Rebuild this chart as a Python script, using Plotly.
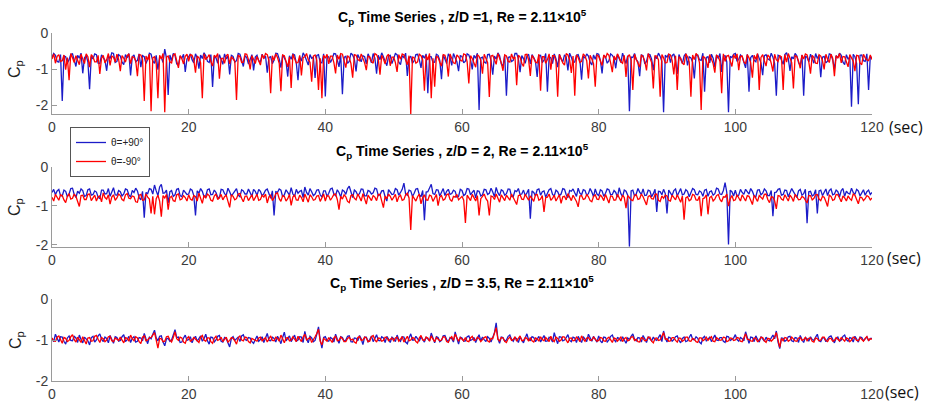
import plotly.graph_objects as go

# ---------------- data (0.25 s sampling) ----------------
TIME_STEP = 0.25

# z/D = 1
CP_ZD1_POS90 = [
    -.68,-.57,-.62,-.79,-.81,-.60,-1.89,-.64,-.66,-.83,-.74,-.59,-.58,-.77,-.93,-.62,-.70,-.56,-1.12,-.69,-.63,-.80,-1.56,-.65,-.72,-.58,-.60,-.84,-.85,-.61,-.67,-.76,-1.05,-.63,-.71,-.55,-.57,-.82,-.79,-.60,
    -.64,-.81,-.88,-.60,-.69,-.57,-1.18,-.66,-.61,-.80,-.76,-.58,-.95,-.63,-.66,-.85,-.73,-.56,-.59,-.78,-.84,-.62,-1.02,-.67,-.68,-.82,-.45,-.70,-1.72,-.61,-.77,-.57,-.62,-.86,-.90,-.64,-.70,-.59,-1.08,-.72,
    -.66,-.58,-.74,-.83,-.58,-.69,-.99,-.61,-.71,-.55,-.63,-.79,-.82,-.60,-1.50,-.66,-.69,-.84,-.60,-.73,-.87,-.58,-.72,-.64,-1.15,-.62,-.65,-.81,-.77,-.57,-.59,-.75,-.93,-.63,-.68,-.86,-.74,-.60,-1.04,-.67,
    -.62,-.77,-.80,-.59,-.70,-.64,-1.10,-.68,-.66,-.85,-.75,-.56,-.57,-.72,-.96,-.61,-.69,-.80,-1.21,-.63,-.73,-.58,-.61,-.83,-1.31,-.66,-.78,-.55,-.64,-.76,-.89,-.60,-.70,-.67,-1.25,-.62,-.60,-.81,-.83,-.58,
    -1.76,-.63,-.67,-.82,-.72,-.57,-.58,-.75,-.94,-.61,-1.70,-.68,-.65,-.84,-.79,-.56,-.61,-.73,-1.07,-.60,-.71,-.80,-.63,-.66,-.86,-.58,-.69,-.83,-.57,-.70,-1.13,-.62,-.74,-.55,-.66,-.78,-.91,-.64,-.62,-.85,
    -.73,-.57,-.60,-.81,-.88,-.63,-.68,-.56,-1.19,-.70,-.64,-.84,-.77,-.60,-.59,-.74,-.97,-.62,-.70,-.58,-1.67,-.65,-.66,-.82,-.81,-.59,-.62,-.76,-1.28,-.61,-.72,-.85,-.58,-.67,-.90,-.57,-.69,-.80,-1.06,-.63,
    -.65,-.83,-.78,-.58,-.61,-.74,-1.01,-.62,-.70,-.56,-2.14,-.69,-.67,-.81,-.84,-.60,-.59,-.77,-1.16,-.64,-.73,-.55,-.63,-.86,-.92,-.61,-1.74,-.68,-.66,-.79,-.76,-.57,-.57,-.72,-1.09,-.63,-.71,-.84,-.64,-.59,
    -.86,-.60,-.68,-.78,-1.22,-.63,-.62,-.82,-.75,-.57,-1.63,-.66,-.69,-.85,-.58,-.71,-.95,-.59,-.72,-.80,-.61,-.67,-1.04,-.56,-.67,-.83,-.80,-.62,-.60,-.75,-1.30,-.64,-.70,-.58,-.64,-.81,-.89,-.61,-.73,-.57,
    -.59,-.76,-1.12,-.62,-.66,-.84,-.77,-.58,-.62,-.71,-.98,-.60,-.70,-.82,-.56,-.74,-.85,-.63,-2.17,-.67,-.68,-.57,-.74,-.80,-1.20,-.61,-.63,-.86,-.79,-.59,-.60,-.73,-1.03,-.65,-.71,-.56,-.65,-.79,-2.20,-.62,
    -.67,-.58,-.82,-.63,-.58,-.77,-1.14,-.60,-.72,-.85,-.64,-.57,-.90,-.66,-.69,-.81,-1.26,-.62,-.61,-.74,-.76,-.56,-1.63,-.68,-.66,-.83,-.59,-.70,-.94,-.61,-.71,-.57,-1.08,-.64,-.63,-.80,-2.20,-.65,-.68,-.59,
    -.57,-.79,-.73,-.61,-.66,-.84,-.97,-.59,-1.63,-.68,-.62,-.76,-.80,-.58,-.70,-.83,-1.17,-.63,-.60,-.72,-.75,-.56,-.67,-.85,-1.74,-.62,-.64,-.78,-.87,-.60,-.55,-.71,-1.05,-.66,-.72,-.57,-.63,-.82,-.91,-.61,
    -1.74,-.64,-.68,-.80,-.59,-.70,-.84,-.57,-.71,-.62,-1.23,-.67,-.65,-.83,-.78,-.58,-.60,-.75,-1.00,-.63,-.69,-.56,-.62,-.81,-.88,-.60,-.73,-.66,-2.05,-.59,-.66,-.84,-1.98,-.62,-.61,-.77,-.79,-.58,-1.58,-.65,
    -.70,
]
CP_ZD1_NEG90 = [
    -.72,-.58,-.84,-.65,-.60,-.79,-.77,-.61,-1.02,-.68,-1.31,-.57,-.69,-.82,-.63,-.74,-.88,-.59,-.71,-.85,-.58,-.66,-.95,-.60,-.66,-.80,-.80,-.62,-1.14,-.70,-.62,-.83,-.74,-.57,-.90,-.64,-.67,-.81,-.59,-.73,
    -1.06,-.63,-.70,-.81,-.63,-.58,-.85,-.66,-.68,-.77,-1.20,-.60,-.61,-.73,-1.89,-.64,-.75,-.59,-2.17,-.69,-.66,-.84,-1.81,-.62,-.72,-.57,-2.20,-.67,-.64,-.80,-.83,-.61,-.58,-.76,-.97,-.63,-.71,-.86,-.65,-.59,
    -.79,-.60,-.62,-.75,-1.10,-.64,-.69,-.83,-1.81,-.58,-.74,-.68,-.60,-.80,-.92,-.62,-.67,-.57,-1.27,-.71,-.70,-.84,-.63,-.59,-.86,-.66,-.72,-.78,-1.86,-.61,-.66,-.82,-.81,-.58,-.59,-.74,-1.01,-.63,-.73,-.85,
    -.65,-.80,-.89,-.60,-.71,-.57,-.60,-.77,-1.67,-.63,-.76,-.58,-.68,-.84,-1.62,-.61,-.63,-.79,-.94,-.66,-1.53,-.59,-.70,-.83,-.82,-.62,-1.18,-.68,-.66,-.57,-.74,-.81,-1.35,-.64,-.61,-.76,-1.58,-.70,-1.81,-.62,
    -.70,-.59,-.86,-.64,-.64,-.82,-1.12,-.61,-.73,-.57,-.59,-.78,-.96,-.63,-.68,-.85,-1.24,-.60,-.62,-.74,-.77,-.58,-.71,-.83,-1.03,-.65,-.66,-.79,-.84,-.57,-.60,-.72,-1.16,-.62,-.72,-.86,-.65,-.59,-.91,-.67,
    -.67,-.82,-1.08,-.60,-.73,-.58,-.61,-.77,-.88,-.63,-2.25,-.66,-.69,-.84,-.80,-.59,-.63,-.75,-1.60,-.62,-.75,-.57,-1.81,-.70,-1.49,-.64,-.68,-.81,-.92,-.60,-.62,-.78,-1.21,-.58,-.70,-.83,-.85,-.61,-.66,-.76,
    -.78,-.58,-.60,-.80,-1.40,-.63,-.71,-.85,-.95,-.60,-.65,-.76,-1.13,-.59,-.73,-.82,-1.78,-.64,-.62,-.77,-.87,-.57,-.69,-.83,-1.05,-.61,-.64,-.79,-.81,-.58,-.72,-.66,-1.45,-.62,-.67,-.84,-.93,-.60,-.59,-.75,
    -1.19,-.62,-.70,-.81,-.83,-.59,-1.60,-.66,-.66,-.84,-.74,-.58,-1.02,-.63,-.63,-.78,-1.77,-.60,-.71,-.83,-.89,-.57,-.61,-.75,-1.11,-.64,-1.74,-.61,-.68,-.82,-.79,-.58,-.64,-.77,-1.26,-.62,-.72,-.85,-1.49,-.60,
    -.65,-.79,-.90,-.61,-.70,-.57,-.62,-.83,-1.09,-.64,-.75,-.58,-.67,-.80,-.84,-.62,-1.22,-.66,-.60,-.76,-1.58,-.59,-.73,-.84,-.95,-.61,-.66,-.78,-1.04,-.57,-.71,-.82,-1.54,-.63,-.64,-.75,-1.77,-.60,-.69,-.83,
    -.82,-.59,-.61,-.76,-1.15,-.63,-1.58,-.67,-.70,-.84,-.88,-.58,-.66,-.80,-1.77,-.61,-.74,-.57,-.63,-.82,-2.14,-.65,-.68,-.78,-.97,-.60,-.72,-.85,-1.10,-.62,-.65,-.79,-1.67,-.58,-.79,-.64,-.62,-.81,-.93,-.60,
    -.71,-.58,-1.03,-.65,-.64,-.80,-.86,-.60,-.69,-.83,-1.24,-.62,-.73,-.57,-1.58,-.68,-.60,-.77,-.92,-.61,-.67,-.84,-1.07,-.59,-.74,-.79,-.63,-.66,-1.58,-.60,-.81,-.57,-.70,-.82,-1.54,-.63,-.66,-.78,-.98,-.61,
    -.72,-.58,-.61,-.80,-1.13,-.62,-.68,-.84,-.85,-.60,-.64,-.77,-1.01,-.59,-.73,-.82,-.59,-.70,-1.20,-.63,-.70,-.57,-.83,-.65,-.66,-.81,-.94,-.60,-.71,-.78,-1.06,-.62,-.63,-.83,-.88,-.59,-.69,-.75,-.77,-.61,
    -.74,
]

# z/D = 2
CP_ZD2_POS90 = [
    -.66,-.58,-.72,-.62,-.58,-.74,-.75,-.60,-.63,-.77,-.70,-.56,-.55,-.71,-.79,-.63,-.68,-.57,-.61,-.76,-.74,-.59,-.57,-.73,-.71,-.62,-.65,-.78,-.82,-.60,-.60,-.70,-.69,-.56,-.76,-.64,-.54,-.72,-.73,-.61,
    -.64,-.75,-.70,-.57,-.59,-.72,-.78,-.61,-.66,-.55,-.62,-.79,-.85,-.63,-1.31,-.66,-.69,-.56,-.58,-.70,-.47,-.62,-.74,-.52,-.45,-.68,-.67,-.60,-.93,-.64,-.61,-.76,-.72,-.58,-.56,-.74,-.77,-.60,-.65,-.71,
    -.70,-.57,-.60,-.74,-1.25,-.62,-.68,-.56,-.63,-.77,-.75,-.59,-.57,-.72,-.71,-.60,-.66,-.78,-.80,-.58,-.59,-.69,-.73,-.55,-.64,-.75,-.69,-.61,-.56,-.73,-.77,-.59,-.62,-.70,-.70,-.57,-.67,-.76,-.58,-.63,
    -.74,-.58,-.63,-.75,-.69,-.60,-.57,-.71,-.81,-.62,-1.25,-.64,-.66,-.57,-.60,-.77,-.72,-.59,-.65,-.73,-.54,-.70,-.76,-.58,-.68,-.63,-.61,-.79,-.52,-.66,-.73,-.56,-.64,-.74,-.70,-.60,-.59,-.72,-.78,-.62,
    -.62,-.76,-.68,-.57,-.55,-.70,-.74,-.59,-.66,-.78,-.60,-.63,-.71,-.56,-.50,-.68,-.79,-.60,-.64,-.73,-.69,-.57,-.58,-.75,-.75,-.61,-.63,-.70,-.67,-.55,-.57,-.74,-.72,-.62,-.61,-.77,-.88,-.59,-.65,-.71,
    -.70,-.56,-.59,-.73,-.66,-.58,-.42,-.70,-.73,-.60,-.62,-.76,-.68,-.57,-.56,-.72,-.77,-.61,-1.37,-.65,-.64,-.53,-.45,-.69,-.71,-.59,-.60,-.75,-.67,-.56,-.74,-.63,-.58,-.71,-.69,-.60,-.63,-.78,-.76,-.58,
    -.61,-.74,-.70,-.56,-.57,-.72,-.66,-.60,-.80,-.62,-.63,-.75,-.72,-.58,-.59,-.71,-.68,-.55,-.65,-.77,-.53,-.67,-.74,-.59,-.62,-.73,-.69,-.57,-.58,-.76,-.77,-.61,-.64,-.56,-.71,-.70,-.60,-.74,-.67,-.58,
    -1.33,-.62,-.66,-.75,-.59,-.57,-.73,-.64,-.62,-.78,-.68,-.59,-.56,-.71,-.75,-.60,-.64,-.74,-.70,-.56,-.58,-.72,-.79,-.61,-.63,-.57,-.67,-.76,-.55,-.68,-.72,-.59,-.61,-.73,-.69,-.56,-.65,-.77,-.57,-.70,
    -.74,-.59,-.62,-.76,-.68,-.57,-.59,-.72,-.71,-.61,-.66,-.78,-.54,-.69,-.77,-.60,-.63,-.73,-2.05,-.62,-.60,-.75,-.70,-.56,-.65,-.71,-.57,-.74,-.73,-.60,-.62,-.77,-.69,-.58,-1.16,-.63,-.64,-.72,-.58,-.69,
    -1.20,-.60,-.67,-.74,-.61,-.57,-.75,-.63,-.56,-.72,-.70,-.59,-.63,-.77,-.68,-.56,-.59,-.71,-.72,-.62,-.65,-.76,-.60,-.58,-.76,-.64,-.62,-.73,-.69,-.55,-.57,-.70,-.71,-.61,-.41,-.66,-1.99,-.60,-.64,-.75,
    -.60,-.76,-.73,-.58,-.66,-.71,-.58,-.64,-.70,-.56,-.63,-.75,-.77,-.60,-.59,-.72,-.68,-.57,-.62,-.74,-.74,-.61,-1.27,-.66,-.65,-.58,-.56,-.73,-.71,-.60,-.61,-.77,-.67,-.56,-.64,-.70,-.79,-.62,-.58,-.73,
    -.69,-.58,-1.45,-.64,-.63,-.75,-.72,-.59,-1.20,-.62,-.60,-.74,-.66,-.57,-.74,-.61,-.57,-.72,-.70,-.60,-.64,-.77,-.61,-.56,-.76,-.63,-.68,-.70,-.55,-.66,-.71,-.58,-.62,-.75,-.67,-.59,-.73,-.64,-.60,-.71,
    -.66,
]
CP_ZD2_NEG90 = [
    -.78,-.88,-.71,-.80,-.86,-.72,-.74,-.85,-.92,-.76,-.69,-.83,-.81,-.70,-.76,-.89,-1.02,-.74,-.73,-.84,-.84,-.71,-.70,-.87,-.79,-.73,-.88,-.77,-.75,-.90,-.67,-.79,-.83,-.72,-.96,-.78,-.72,-.86,-.80,-.70,
    -.74,-.84,-.87,-.72,-.69,-.81,-.82,-.75,-.77,-.90,-.91,-.73,-.71,-.86,-.85,-.70,-.78,-.83,-1.20,-.76,-1.22,-.82,-.73,-.88,-1.28,-.74,-.80,-.71,-1.10,-.79,-.76,-.87,-.89,-.72,-.70,-.85,-.83,-.74,-.79,-.88,
    -.72,-.83,-.86,-.74,-.77,-.88,-.68,-.80,-.94,-.73,-.81,-.70,-.74,-.86,-.88,-.75,-.70,-.84,-.79,-.71,-.85,-.77,-.73,-.89,-1.04,-.72,-.76,-.85,-.82,-.70,-.69,-.81,-.90,-.76,-.75,-.87,-.80,-.72,-.87,-.78,
    -.71,-.86,-.84,-.73,-.78,-.70,-.93,-.77,-.73,-.87,-.80,-.69,-.67,-.82,-.89,-.74,-.76,-.88,-.82,-.71,-.99,-.78,-.72,-.85,-.86,-.73,-.79,-.90,-.70,-.80,-.91,-.72,-.77,-.86,-.84,-.75,-.74,-.89,-.81,-.70,
    -.88,-.74,-.75,-.86,-.79,-.71,-.70,-.84,-1.10,-.76,-.83,-.72,-.77,-.89,-.92,-.74,-.72,-.81,-.85,-.70,-.78,-.88,-.69,-.80,-.96,-.73,-.80,-.87,-.74,-.78,-.87,-.71,-.71,-.85,-1.05,-.75,-.82,-.70,-.76,-.86,
    -.79,-.71,-.90,-.77,-.73,-.86,-.84,-.72,-.68,-.80,-1.62,-.74,-.81,-.88,-.77,-.70,-.95,-.79,-.72,-.85,-.86,-.73,-.75,-.89,-.80,-.71,-1.00,-.78,-.74,-.86,-.83,-.72,-.70,-.84,-.89,-.76,-.78,-.71,-.85,-.80,
    -.76,-.86,-1.44,-.73,-.79,-.87,-.71,-.80,-.88,-.74,-1.25,-.82,-.74,-.70,-.82,-.88,-1.25,-.75,-.77,-.84,-.70,-.79,-.91,-.72,-.80,-.87,-.73,-.81,-.86,-.70,-.78,-.89,-.97,-.74,-.72,-.83,-.84,-.71,-.79,-.86,
    -.75,-.84,-.89,-.72,-.71,-.86,-.83,-.74,-1.16,-.79,-.78,-.70,-.86,-.81,-.73,-.88,-.80,-.72,-.94,-.77,-.76,-.85,-.69,-.80,-.87,-.73,-.81,-.89,-1.03,-.75,-.74,-.84,-.82,-.71,-.77,-.87,-.90,-.76,-.72,-.83,
    -.84,-.72,-.78,-.87,-.71,-.80,-.93,-.75,-.76,-.86,-.85,-.71,-.80,-.88,-.73,-.79,-1.06,-.74,-.79,-.85,-.87,-.73,-.72,-.84,-.82,-.70,-.77,-.89,-.98,-.76,-.74,-.82,-.83,-.71,-.70,-.86,-.89,-.75,-.81,-.73,
    -.75,-.86,-.88,-.73,-.79,-.85,-.72,-.81,-.91,-.75,-1.36,-.80,-.77,-.87,-.84,-.71,-.73,-.85,-.86,-.76,-1.27,-.82,-.80,-.72,-1.22,-.79,-.76,-.88,-.83,-.74,-.71,-.84,-.90,-.77,-.78,-.70,-1.01,-.83,-.74,-.87,
    -.85,-.72,-.79,-.88,-.72,-.81,-.88,-.74,-.76,-.86,-.97,-.73,-.81,-.89,-.74,-.80,-.83,-.71,-.70,-.84,-.92,-.77,-.78,-.87,-1.08,-.74,-.75,-.83,-.86,-.72,-.80,-.88,-.73,-.79,-.89,-.71,-.77,-.85,-.84,-.76,
    -.79,-.87,-.93,-.74,-.74,-.85,-.81,-.72,-.71,-.83,-.87,-.76,-.78,-.89,-1.02,-.73,-.76,-.86,-.84,-.71,-.72,-.80,-.90,-.75,-.80,-.88,-.75,-.82,-.86,-.70,-.73,-.84,-.95,-.78,-.79,-.87,-.82,-.74,-.77,-.85,
    -.80,
]

# z/D = 3.5
CP_ZD35_POS90 = [
    -.98,-1.04,-.86,-.97,-1.05,-.92,-.93,-1.03,-1.10,-.95,-.90,-1.01,-1.02,-.91,-.95,-1.06,-.88,-.99,-1.07,-.93,-.97,-1.02,-1.12,-.94,-.91,-1.05,-1.00,-.90,-.85,-.98,-1.04,-.93,-.96,-1.07,-.89,-1.00,-1.08,-.92,-.94,-1.03,
    -1.01,-.92,-.87,-1.04,-.99,-.91,-1.06,-.96,-.92,-1.05,-1.03,-.94,-.95,-1.02,-.84,-.97,-1.09,-.93,-.97,-.86,-.76,-.95,-1.02,-.91,-.90,-1.05,-1.14,-.97,-.96,-1.03,-1.00,-.88,-.75,-.94,-.93,-1.06,-1.05,-.95,-.88,-1.01,
    -.99,-.92,-1.07,-.96,-.91,-1.03,-.96,-.90,-1.03,-.97,-.86,-1.02,-1.10,-.93,-.94,-1.05,-1.00,-.91,-.89,-1.03,-1.05,-.94,-.97,-1.06,-1.17,-.96,-.92,-1.01,-.98,-.93,-1.04,-.90,-.87,-.99,-1.01,-.94,-.95,-1.04,-1.08,-.97,
    -.90,-1.03,-.99,-.92,-1.06,-.95,-.84,-1.01,-1.02,-.93,-.96,-1.05,-.91,-.98,-1.09,-.94,-.81,-1.02,-.97,-.90,-1.04,-.96,-.88,-1.03,-1.00,-.92,-.93,-1.06,-.79,-.97,-1.07,-.91,-.95,-1.04,-1.01,-.86,-.68,-1.00,-1.20,-.94,
    -.92,-1.01,-1.03,-.94,-.97,-1.05,-.86,-.98,-1.08,-.92,-.94,-1.03,-1.00,-.91,-.90,-1.04,-1.05,-.95,-.96,-1.02,-.89,-.97,-1.11,-.93,-.93,-1.04,-.99,-.90,-1.04,-.96,-.87,-1.01,-1.02,-.92,-.95,-1.06,-.91,-.98,-1.06,-.93,
    -.97,-1.04,-.88,-.99,-1.03,-.92,-.93,-1.05,-1.09,-.95,-.85,-1.00,-1.00,-.91,-.96,-1.03,-.92,-.98,-1.05,-.93,-.98,-1.02,-.83,-.96,-1.07,-.92,-.94,-1.04,-1.01,-.90,-.89,-.99,-1.04,-.94,-.97,-1.05,-.80,-.96,-1.10,-.93,
    -.95,-1.03,-1.02,-.92,-.90,-1.01,-.99,-.94,-1.06,-.96,-.87,-1.02,-.93,-.99,-1.04,-.92,-.96,-1.05,-.91,-.82,-.58,-.97,-1.08,-.93,-.94,-1.03,-1.00,-.91,-.88,-.98,-1.03,-.94,-.97,-1.06,-.92,-.99,-1.07,-.95,-.85,-1.00,
    -1.01,-.92,-.94,-1.04,-.98,-.91,-1.05,-.96,-.89,-1.03,-1.02,-.93,-.96,-1.05,-.82,-.97,-1.09,-.92,-.93,-1.02,-1.00,-.94,-.87,-1.01,-1.04,-.93,-.95,-1.06,-.91,-.99,-1.06,-.92,-.98,-1.04,-.86,-.95,-1.03,-.91,-.97,-1.05,
    -.90,-1.02,-1.07,-.93,-.94,-1.05,-1.00,-.91,-.88,-.99,-1.04,-.94,-.96,-1.03,-.92,-1.00,-1.08,-.95,-.99,-.91,-.85,-.98,-1.02,-.94,-.95,-1.05,-.89,-.97,-1.06,-.93,-.97,-1.02,-.93,-.99,-1.01,-.92,-.87,-1.04,-.78,-.96,
    -1.05,-.93,-.95,-1.03,-.99,-.92,-.90,-1.01,-1.07,-.96,-.93,-1.04,-1.02,-.94,-.86,-.98,-1.00,-.92,-.96,-1.05,-1.09,-.95,-.91,-1.02,-.98,-.93,-1.04,-.97,-.88,-1.00,-1.01,-.94,-.94,-1.03,-1.06,-.91,-.92,-1.01,-.99,-.95,
    -.87,-.99,-1.03,-.94,-.97,-1.02,-.80,-.95,-1.08,-.93,-.94,-1.04,-.90,-.98,-1.05,-.92,-.99,-1.03,-.93,-1.00,-1.02,-.94,-.88,-.97,-.78,-1.05,-1.21,-.95,-.96,-1.03,-1.00,-.92,-.91,-1.02,-1.04,-.94,-.95,-1.06,-.89,-.99,
    -1.06,-.94,-.97,-1.03,-.92,-.99,-1.01,-.93,-.86,-1.02,-1.04,-.95,-.95,-1.04,-.99,-.92,-.90,-1.01,-1.07,-.96,-.93,-1.03,-1.00,-.91,-.88,-.99,-1.03,-.94,-.96,-1.05,-.91,-.98,-1.05,-.93,-.94,-1.02,-.98,-.92,-1.02,-.96,
    -.96,
]
CP_ZD35_NEG90 = [
    -.95,-1.02,-1.03,-.93,-.90,-1.01,-1.08,-.94,-.96,-1.04,-1.01,-.92,-.87,-.99,-1.05,-.93,-.99,-1.06,-.92,-1.00,-1.10,-.95,-.94,-1.03,-1.02,-.91,-.89,-.98,-1.06,-.94,-.97,-1.04,-1.00,-.92,-.91,-1.02,-1.04,-.95,-.98,-1.01,
    -.93,-1.01,-1.07,-.94,-.96,-1.03,-.88,-.97,-1.02,-.92,-.95,-1.04,-1.09,-.93,-.90,-1.02,-1.00,-.95,-.94,-.88,-.82,-1.00,-1.20,-.96,-.97,-1.04,-1.03,-.92,-.91,-1.00,-1.05,-.94,-.80,-.97,-1.01,-.93,-.95,-1.05,-1.08,-.96,
    -.92,-1.03,-1.00,-.94,-.97,-1.02,-1.06,-.93,-.89,-1.00,-1.03,-.95,-.95,-1.04,-1.08,-.96,-.91,-1.01,-.99,-.93,-1.04,-.97,-.93,-1.05,-1.01,-.94,-.96,-1.02,-1.10,-.95,-.90,-1.00,-1.02,-.93,-.94,-1.04,-1.07,-.96,-.98,-1.02,
    -1.03,-.95,-.93,-1.02,-.99,-.94,-1.05,-.96,-.90,-1.01,-1.02,-.93,-.96,-1.03,-.88,-.97,-1.07,-.95,-.94,-1.02,-1.00,-.92,-.97,-1.04,-.91,-.98,-1.04,-.93,-.86,-1.00,-.98,-.94,-1.06,-.97,-.92,-.84,-.74,-1.03,-1.12,-.96,
    -.99,-1.03,-.94,-1.01,-1.06,-.95,-.91,-1.02,-1.01,-.93,-.97,-1.04,-1.04,-.96,-.93,-1.00,-.98,-1.05,-1.08,-.94,-.92,-1.01,-1.00,-.93,-.95,-1.04,-1.03,-.92,-.89,-.99,-1.05,-.95,-.96,-1.03,-1.01,-.93,-.94,-1.02,-.99,-.95,
    -1.02,-.95,-.93,-1.03,-.98,-.92,-1.05,-.97,-.91,-1.02,-1.00,-.94,-.96,-1.04,-1.07,-.95,-.89,-1.00,-1.01,-.93,-.95,-1.03,-.90,-.98,-1.04,-.94,-.97,-1.02,-1.00,-.92,-.93,-1.04,-1.06,-.96,-.92,-1.01,-.86,-.97,-1.03,-.94,
    -.98,-1.02,-.94,-1.03,-1.04,-.95,-.91,-1.01,-1.00,-.93,-.96,-1.04,-.99,-.94,-.92,-1.02,-1.05,-.96,-.97,-.85,-.70,-.98,-1.02,-.94,-.95,-1.03,-1.06,-.97,-.93,-1.01,-.99,-.92,-1.03,-.96,-.90,-1.02,-1.01,-.94,-.96,-1.03,
    -.94,-1.02,-1.05,-.95,-.97,-1.03,-.92,-.99,-1.02,-.94,-.98,-1.04,-.91,-1.00,-1.04,-.93,-.96,-1.03,-1.00,-.92,-.93,-1.01,-1.07,-.96,-.95,-1.02,-1.01,-.93,-.97,-1.04,-.90,-.98,-1.03,-.95,-.94,-1.01,-1.00,-.93,-.98,-1.03,
    -1.01,-.94,-.95,-1.02,-1.03,-.96,-.93,-1.01,-1.06,-.95,-.97,-1.03,-.99,-.93,-1.04,-.97,-.94,-1.02,-1.00,-.93,-.92,-1.01,-.98,-1.04,-1.05,-.94,-.96,-1.02,-1.01,-.93,-.93,-1.03,-1.07,-.96,-.95,-1.01,-1.00,-.90,-.82,-.98,
    -.97,-1.03,-1.02,-.94,-.94,-1.01,-1.05,-.95,-.96,-1.03,-1.00,-.93,-.93,-1.02,-1.03,-.96,-.98,-1.04,-1.06,-.95,-.95,-1.02,-.99,-.93,-1.01,-.96,-.92,-1.03,-1.04,-.94,-.97,-1.01,-1.00,-.93,-.94,-1.04,-1.02,-.95,-.96,-1.01,
    -1.00,-.94,-.95,-1.03,-1.04,-.93,-.85,-.98,-.99,-1.02,-1.03,-.95,-.96,-1.04,-1.01,-.93,-.94,-1.02,-1.06,-.96,-.97,-1.03,-.99,-.92,-.82,-1.00,-1.18,-.96,-1.02,-.94,-.95,-1.03,-1.00,-.93,-.97,-1.02,-1.03,-.95,-.94,-1.01,
    -.99,-.94,-1.02,-.96,-.95,-1.03,-1.05,-.95,-.97,-1.02,-1.00,-.93,-.93,-1.01,-1.04,-.96,-.96,-1.03,-1.01,-.94,-.98,-1.02,-.94,-1.00,-1.03,-.95,-.97,-1.04,-1.00,-.93,-.95,-1.01,-1.02,-.94,-.99,-1.03,-.96,-.92,-1.01,-.97,
    -.98,
]

SERIES_NAMES = ["θ=+90°", "θ=-90°"]
PANEL_TITLES = [
    "<b>C<sub>p</sub> Time Series , z/D =1, Re = 2.11×10<sup>5</sup></b>",
    "<b>C<sub>p</sub> Time Series , z/D = 2, Re = 2.11×10<sup>5</sup></b>",
    "<b>C<sub>p</sub> Time Series , z/D = 3.5, Re = 2.11×10<sup>5</sup></b>",
]
PANEL_DATA = [
    (CP_ZD1_POS90, CP_ZD1_NEG90),
    (CP_ZD2_POS90, CP_ZD2_NEG90),
    (CP_ZD35_POS90, CP_ZD35_NEG90),
]
Y_RANGES = [[-2.25, 0], [-2.05, 0], [-2.0, 0]]
X_TICKS = [0, 20, 40, 60, 80, 100, 120]
X_TICK_TEXT = ["0", "20", "40", "60", "80", "100", "120"]
Y_TICKS = [0, -1, -2]
Y_TICK_TEXT = ["0", "-1", "-2"]

# ---------------- styling / layout ----------------
W, H = 927, 403
BLUE = "#1c1cc8"
RED = "#ff0000"
AXIS_COLOR = "#9a9a9a"
TICK_FONT = dict(family="Liberation Sans, Arial, sans-serif", size=14, color="#3c3c3c")

# pixel geometry of the three panels (top, bottom)
X_LEFT, X_RIGHT = 52, 872
PANELS_PX = [(33, 114), (166.7, 246.7), (299, 381)]
TITLE_Y_PX = [17, 151, 283]
CP_Y_PX = [69, 207, 340]
SEC_Y_PX = [127, 258, 392]
SEC_X_PX = [887, 885, 883]


def px_x(p):
    return p / W


def px_y(p):
    return 1 - p / H


def times_for(values):
    return [i * TIME_STEP for i in range(len(values))]


fig = go.Figure()

for k, (pos, neg) in enumerate(PANEL_DATA):
    xa = "x" if k == 0 else f"x{k + 1}"
    ya = "y" if k == 0 else f"y{k + 1}"
    fig.add_trace(go.Scatter(
        x=times_for(pos), y=pos, mode="lines", name=SERIES_NAMES[0],
        line=dict(color=BLUE, width=1.3), xaxis=xa, yaxis=ya,
        showlegend=(k == 0),
    ))
    fig.add_trace(go.Scatter(
        x=times_for(neg), y=neg, mode="lines", name=SERIES_NAMES[1],
        line=dict(color=RED, width=1.3), xaxis=xa, yaxis=ya,
        showlegend=(k == 0),
    ))

layout_axes = {}
annotations = []
for k, (top, bottom) in enumerate(PANELS_PX):
    xkey = "xaxis" if k == 0 else f"xaxis{k + 1}"
    ykey = "yaxis" if k == 0 else f"yaxis{k + 1}"
    anchor_x = "y" if k == 0 else f"y{k + 1}"
    anchor_y = "x" if k == 0 else f"x{k + 1}"
    layout_axes[xkey] = dict(
        domain=[px_x(X_LEFT), px_x(X_RIGHT)], anchor=anchor_x,
        range=[0, 120], tickvals=X_TICKS, ticktext=X_TICK_TEXT,
        showline=True, linecolor=AXIS_COLOR, linewidth=1,
        ticks="inside", ticklen=5, tickcolor=AXIS_COLOR,
        showgrid=False, zeroline=False, tickfont=TICK_FONT, automargin=False,
    )
    layout_axes[ykey] = dict(
        domain=[px_y(bottom), px_y(top)], anchor=anchor_y,
        range=Y_RANGES[k], tickvals=Y_TICKS, ticktext=Y_TICK_TEXT,
        showline=True, linecolor=AXIS_COLOR, linewidth=1,
        ticks="inside", ticklen=5, tickcolor=AXIS_COLOR,
        showgrid=False, zeroline=False, tickfont=TICK_FONT, automargin=False,
    )
    annotations.append(dict(
        text=PANEL_TITLES[k], xref="paper", yref="paper",
        x=px_x((X_LEFT + X_RIGHT) / 2), y=px_y(TITLE_Y_PX[k]),
        xanchor="center", yanchor="middle", showarrow=False,
        font=dict(family="Liberation Sans, Arial, sans-serif", size=14, color="#000000"),
    ))
    annotations.append(dict(
        text="C<sub>p</sub>", xref="paper", yref="paper",
        x=px_x(16), y=px_y(CP_Y_PX[k]), textangle=-90,
        xanchor="center", yanchor="middle", showarrow=False,
        font=dict(family="Liberation Sans, Arial, sans-serif", size=16, color="#222222"),
    ))
    annotations.append(dict(
        text="(sec)", xref="paper", yref="paper",
        x=px_x(SEC_X_PX[k]), y=px_y(SEC_Y_PX[k]),
        xanchor="left", yanchor="middle", showarrow=False,
        font=dict(family="Open Sans, sans-serif", size=16, color="#111111"),
    ))

fig.update_layout(
    width=W, height=H,
    margin=dict(l=0, r=0, t=0, b=0, autoexpand=False),
    paper_bgcolor="white", plot_bgcolor="white",
    showlegend=True,
    legend=dict(
        x=px_x(70), y=px_y(127), xanchor="left", yanchor="top",
        bgcolor="white", bordercolor="#555555", borderwidth=1,
        font=dict(family="Liberation Sans, Arial, sans-serif", size=10, color="#222222"),
        itemwidth=30, tracegroupgap=0,
    ),
    annotations=annotations,
    hovermode=False,
    **layout_axes,
)

fig.write_html(
    "out.html",
    config={"displayModeBar": False},
    post_script="document.body.style.margin='0';document.body.style.overflow='hidden';",
)
